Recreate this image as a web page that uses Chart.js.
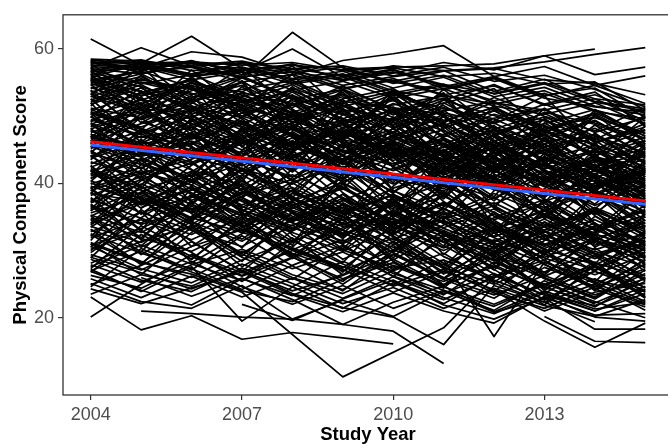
<!DOCTYPE html>
<html>
<head>
<meta charset="utf-8">
<script src="https://cdn.jsdelivr.net/npm/chart.js@4.4.1/dist/chart.umd.min.js"></script>
<style>
  html, body { margin: 0; padding: 0; background: #fff; overflow: hidden; }
  #wrap { width: 680px; height: 446px; }
</style>
</head>
<body>
<div id="wrap"><canvas id="pcsChart" width="680" height="446"></canvas></div>
<script>
const _ = null;

const years = [2004, 2005, 2006, 2007, 2008, 2009, 2010, 2011, 2012, 2013, 2014, 2015];
const xTicks = [2004, 2007, 2010, 2013];
const yTicks = [20, 40, 60];

// one row per participant, PCS by study year (null = not measured that year)
const subjects = [
  [58.3,57.9,58.1,57.6,58.0,56.8,57.2,55.9,56.4,54.8,55.1,50.9],
  [58.5,58.2,57.4,58.0,57.1,57.5,56.0,57.3,55.2,56.1,54.0,51.4],
  [58.1,57.0,58.3,56.2,57.8,55.4,56.9,54.1,55.7,53.0,54.6,51.9],
  [57.9,58.4,56.8,57.3,55.6,56.7,54.2,55.8,52.9,54.3,51.5,50.2],
  [58.4,57.6,57.9,55.8,57.0,54.6,55.9,56.8,53.7,55.5,52.2,51.1],
  [61.5,57.6,56.1,57.9,55.0,56.3,53.8,52.4,54.7,51.6,53.2,50.4],
  [57.2,60.2,57.5,55.9,56.6,54.2,55.3,53.1,51.8,53.4,50.7,49.6],
  [56.8,57.9,61.9,57.1,55.4,56.2,53.5,54.8,52.0,50.9,52.6,49.3],
  [57.6,57.2,59.6,58.8,56.4,57.3,55.1,53.9,55.6,52.7,51.4,50.6],
  [56.2,58.0,57.3,55.7,62.5,57.2,54.9,56.1,53.3,54.8,52.1,50.8],
  [57.4,56.9,58.2,56.6,60.0,55.8,57.0,54.4,55.9,53.1,54.2,49.8],
  [55.8,57.8,56.3,57.9,56.1,58.3,59.3,60.5,55.9,57.4,54.6,56.0],
  [_,_,_,_,_,57.0,57.3,57.5,57.8,59.0,60.0,_],
  [_,_,_,56.4,57.1,56.0,57.5,56.8,57.2,58.1,59.2,60.2],
  [57.1,56.3,57.6,58.2,56.7,55.3,56.4,58.0,56.9,59.0,56.2,57.3],
  [56.6,57.4,55.9,56.8,57.6,56.9,55.2,56.7,57.1,55.4,54.9,53.2],
  [58.2,56.5,57.3,55.1,56.2,54.0,55.6,53.2,54.5,51.8,53.6,48.5],
  [57.8,58.1,56.0,57.0,54.8,55.9,53.1,54.6,52.3,53.8,50.9,49.0],
  [55.3,56.8,58.0,56.9,57.7,55.5,56.6,54.7,53.4,55.0,52.6,51.7],
  [58.0,57.3,55.4,56.6,53.9,55.2,52.7,54.1,51.5,50.3,52.0,48.8],
  [55.2,53.1,54.6,52.0,53.8,50.7,52.3,49.4,51.2,48.0,49.9,47.1],
  [54.6,56.3,52.8,55.1,51.6,53.9,50.2,52.7,49.1,51.0,47.6,49.8],
  [53.8,51.2,55.0,52.4,50.1,53.2,48.7,51.6,47.3,49.5,46.2,48.4],
  [56.1,54.4,51.9,55.7,53.0,49.6,52.8,48.2,50.9,46.8,49.3,45.5],
  [52.9,55.6,53.4,50.8,54.2,51.5,49.3,52.0,48.1,50.4,47.0,44.6],
  [55.7,52.4,54.9,53.6,51.3,54.5,50.8,48.6,51.4,47.7,45.9,48.9],
  [54.1,55.9,52.2,54.0,55.3,52.1,53.7,50.5,48.9,51.8,49.0,46.7],
  [53.3,50.9,53.8,56.0,52.7,50.2,53.3,51.1,49.6,46.4,49.8,47.5],
  [56.5,54.8,56.2,53.1,50.6,52.9,49.8,47.2,50.3,48.5,45.1,47.9],
  [51.8,54.2,50.7,53.5,51.9,49.1,51.7,53.0,48.4,45.9,48.2,44.3],
  [54.9,52.6,50.3,52.9,55.0,51.7,48.2,50.8,52.2,49.3,46.5,50.1],
  [52.4,55.1,54.0,51.2,49.5,52.6,54.1,49.9,47.0,50.6,48.8,45.9],
  [55.5,53.7,51.4,49.8,53.1,50.4,47.6,51.3,49.0,45.4,47.3,43.8],
  [53.0,50.5,52.7,54.6,50.9,48.3,51.0,46.9,49.7,51.1,46.1,48.0],
  [50.9,53.4,55.5,52.1,54.7,51.0,49.5,52.4,50.1,47.6,50.3,46.6],
  [56.9,55.0,53.2,55.8,52.5,54.0,51.2,49.0,52.8,50.0,47.8,51.3],
  [54.3,51.7,49.9,52.3,48.6,51.4,53.5,50.0,46.3,48.9,51.0,47.0],
  [51.2,49.8,52.5,50.0,53.6,49.4,47.1,49.9,45.5,47.8,44.2,46.4],
  [55.0,56.7,54.3,51.6,49.2,47.5,50.6,53.2,51.0,48.6,45.6,43.4],
  [52.1,54.7,51.0,48.9,51.8,53.3,50.5,47.8,44.9,47.2,49.4,45.2],
  [_,53.5,55.3,52.6,50.4,48.8,51.9,49.2,52.1,48.0,50.5,47.4],
  [_,_,54.2,51.3,53.9,50.6,52.5,48.3,50.8,47.1,44.5,46.9],
  [53.6,55.4,_,52.8,49.9,52.2,_,50.3,47.6,49.9,46.7,_],
  [50.6,48.4,51.3,53.4,49.7,47.0,49.2,45.9,48.5,44.6,46.8,43.0],
  [55.9,53.0,55.6,50.5,52.3,49.7,46.4,48.8,45.8,48.1,44.0,42.1],
  [49.5,47.2,50.1,46.8,48.9,45.3,47.6,44.1,46.2,42.7,45.0,41.6],
  [48.1,50.6,46.9,49.3,45.8,48.0,44.7,46.5,43.2,45.9,41.8,44.2],
  [47.3,44.9,48.7,51.2,47.0,44.3,46.9,49.0,44.6,41.5,43.9,40.7],
  [50.2,52.4,48.3,45.6,49.1,51.6,47.4,44.8,47.9,45.1,42.3,46.0],
  [46.6,49.8,51.5,47.9,44.2,46.7,49.5,45.7,42.4,44.9,47.3,42.9],
  [49.0,45.8,47.5,44.0,47.7,43.6,46.1,42.9,45.3,41.2,43.5,39.8],
  [45.2,47.9,44.6,48.0,50.3,46.2,43.8,47.3,44.0,40.6,43.2,45.1],
  [48.8,51.3,49.6,46.3,43.9,47.5,45.0,41.7,44.5,46.8,42.6,40.1],
  [44.5,42.3,46.0,49.1,45.4,42.9,45.8,43.4,40.2,42.8,39.6,41.9],
  [47.8,45.1,42.8,45.9,48.6,44.8,41.9,44.9,47.1,43.6,40.8,43.7],
  [51.0,48.2,45.7,49.8,46.1,43.2,47.0,44.3,41.6,45.4,42.0,38.9],
  [46.1,48.9,50.8,47.2,44.9,48.3,44.1,46.8,43.1,39.9,42.5,44.6],
  [43.7,46.3,44.0,41.8,45.2,47.9,44.4,41.3,43.8,40.7,38.2,41.4],
  [49.9,46.8,48.4,51.0,47.3,45.0,42.6,46.0,42.8,44.6,41.1,39.3],
  [45.8,43.4,47.0,44.5,42.1,45.6,48.1,43.9,41.0,43.5,45.7,40.4],
  [48.4,50.9,47.8,45.0,48.4,44.6,46.4,48.9,45.2,42.1,44.8,41.0],
  [44.0,47.5,50.0,46.6,43.5,41.2,44.7,42.0,45.5,41.9,39.0,42.6],
  [50.7,48.0,44.9,47.7,50.8,47.1,43.4,45.9,42.4,40.1,43.7,39.5],
  [42.9,45.6,43.1,46.4,44.0,40.8,43.9,46.4,42.9,39.5,41.9,44.1],
  [47.0,44.2,46.3,43.3,46.8,49.0,45.5,42.6,39.8,43.0,40.3,37.6],
  [_,49.2,46.6,48.8,45.7,42.4,45.2,41.6,44.2,46.3,42.2,40.0],
  [46.9,_,44.4,47.4,50.0,46.5,_,43.7,40.5,43.9,41.2,38.6],
  [_,_,_,48.2,45.0,47.8,44.0,40.9,43.6,40.4,42.7,39.4],
  [43.2,40.9,44.8,42.2,39.9,43.5,46.0,42.4,39.4,42.0,38.6,36.8],
  [49.3,52.0,48.9,46.0,49.6,46.0,42.9,45.4,48.1,44.3,41.4,44.5],
  [45.5,42.8,41.0,44.7,47.2,44.1,40.7,38.9,42.3,45.0,40.9,37.9],
  [48.6,46.0,49.2,52.1,48.0,44.7,47.7,44.6,41.9,38.8,42.0,40.6],
  [41.7,44.4,47.3,43.6,41.0,44.2,41.4,39.2,42.7,39.9,36.7,39.8],
  [47.6,49.7,45.3,42.6,46.3,42.8,45.9,48.0,43.0,40.8,44.0,41.3],
  [44.8,41.5,43.6,46.9,43.1,40.3,42.2,44.7,40.6,38.1,40.5,36.3],
  [50.5,47.6,51.1,48.5,45.3,48.8,45.3,42.2,45.8,42.5,39.7,42.9],
  [42.4,45.3,42.0,39.7,43.8,46.5,42.5,39.6,36.9,40.3,43.3,38.4],
  [46.4,43.9,40.5,43.8,40.6,43.7,47.2,43.0,40.0,37.3,40.0,42.0],
  [48.0,44.6,47.1,50.5,46.9,43.0,39.9,43.2,46.1,42.6,39.3,41.7],
  [43.9,47.0,45.5,41.4,44.4,41.5,44.6,40.4,37.8,41.1,38.0,35.4],
  [_,_,_,_,_,_,46.3,43.3,40.1,43.7,40.7,37.4],
  [47.1,44.0,46.0,42.9,_,_,_,_,_,_,_,_],
  [41.1,43.7,40.2,43.0,46.2,42.3,38.8,42.1,39.1,36.4,39.5,41.5],
  [39.6,37.2,40.5,36.8,39.4,35.9,38.2,34.7,37.1,33.6,36.0,32.8],
  [38.2,41.0,37.5,40.3,36.7,39.2,35.4,38.1,34.6,37.0,33.2,35.9],
  [36.5,34.1,37.9,41.2,37.6,34.5,37.4,40.0,35.6,32.7,35.8,33.1],
  [40.8,43.4,39.1,36.4,40.2,42.5,38.0,35.3,38.5,35.4,32.6,36.7],
  [35.1,38.7,41.8,37.9,34.3,37.4,40.7,36.2,33.1,35.9,38.9,34.0],
  [39.0,35.6,38.1,34.2,38.0,33.8,36.9,33.4,36.2,32.1,34.6,31.2],
  [34.4,37.3,33.9,38.1,40.6,36.2,33.0,37.1,33.8,30.6,33.5,36.1],
  [38.9,41.6,39.8,36.0,33.7,37.5,34.6,31.3,34.9,37.6,33.1,30.4],
  [33.6,31.2,35.0,38.6,34.8,32.1,35.7,33.0,29.7,32.9,30.1,32.6],
  [37.7,34.8,32.4,35.9,39.0,35.1,31.6,35.0,37.9,33.9,30.8,33.8],
  [41.5,38.3,35.6,40.0,36.4,33.1,37.3,34.3,31.2,35.5,31.9,29.6],
  [36.0,39.2,41.2,37.3,34.6,38.4,34.0,37.2,33.5,29.8,32.8,35.3],
  [32.8,35.7,33.0,30.6,34.5,37.8,33.9,30.5,33.4,30.2,27.9,31.1],
  [40.1,36.8,39.0,41.9,37.8,35.0,32.4,36.3,32.6,35.1,31.5,29.2],
  [35.3,32.7,36.6,33.8,31.2,35.3,38.3,34.0,30.8,33.6,35.7,30.7],
  [39.3,41.9,38.6,35.1,38.9,35.6,39.3,41.6,36.5,33.0,36.4,33.3],
  [34.0,37.0,40.2,36.6,33.4,31.0,34.8,32.1,35.4,31.7,28.8,32.0],
  [41.9,39.0,35.7,38.4,41.3,37.9,34.2,36.9,33.2,30.9,34.1,29.9],
  [31.9,34.6,31.6,35.0,32.7,29.9,33.2,35.8,31.9,29.0,31.8,34.2],
  [37.1,39.9,36.9,34.0,37.4,40.1,36.5,33.3,30.4,34.2,31.2,28.4],
  [33.1,30.5,34.3,31.4,35.6,32.6,29.8,33.8,36.7,32.4,29.5,31.6],
  [40.4,37.7,34.8,38.8,35.1,32.3,35.8,32.7,29.9,33.1,36.1,32.2],
  [_,36.4,39.4,36.1,33.2,36.9,33.6,30.4,33.6,30.3,33.4,29.1],
  [38.5,_,36.1,39.7,36.0,33.6,_,34.4,31.4,34.7,31.0,_],
  [_,_,_,_,38.7,35.4,38.4,35.0,32.0,35.2,32.4,30.2],
  [36.8,33.9,36.3,32.9,36.3,39.5,35.5,32.5,29.4,32.3,29.1,31.9],
  [30.8,33.3,36.9,33.2,30.1,33.4,36.8,32.6,29.2,26.8,29.9,27.6],
  [39.9,42.4,38.4,35.5,32.9,36.4,33.0,30.0,33.1,36.1,32.0,28.8],
  [34.9,31.8,29.9,33.4,36.8,33.0,30.5,27.9,31.6,28.9,26.4,29.4],
  [37.4,40.6,43.0,38.9,35.8,32.4,35.9,38.7,34.2,30.8,33.7,31.3],
  [42.2,39.4,36.2,33.6,37.2,34.0,30.9,34.5,31.0,28.1,31.4,35.0],
  [_,_,38.2,35.2,38.5,35.8,32.6,36.2,33.1,29.6,32.5,30.0],
  [35.6,38.1,34.7,37.6,34.1,31.4,34.4,31.2,28.5,31.9,28.2,25.9],
  [29.4,27.1,30.6,33.1,29.6,27.0,30.1,27.5,25.0,28.3,25.6,23.9],
  [27.6,30.8,28.0,25.5,28.9,31.6,27.7,24.8,27.9,24.4,26.9,24.1],
  [31.2,28.4,26.0,29.9,26.4,24.2,27.8,25.4,29.0,25.9,23.1,26.6],
  [26.3,24.4,27.9,30.2,27.3,29.8,26.2,23.6,26.6,23.4,21.8,24.7],
  [30.2,33.0,29.1,26.3,30.4,27.6,24.9,28.6,25.6,22.8,25.8,22.4],
  [28.7,25.6,23.9,27.4,24.6,28.4,25.4,22.7,26.0,28.6,24.3,21.6],
  [24.9,27.8,31.3,27.0,24.0,26.3,29.4,26.0,23.4,26.3,23.4,25.8],
  [32.5,29.6,27.3,24.2,27.8,30.8,26.6,24.1,21.7,24.9,27.5,23.3],
  [25.8,23.0,26.2,23.1,25.9,22.9,26.1,23.0,20.6,23.7,21.0,23.6],
  [28.1,31.4,33.6,29.5,26.0,23.6,27.0,29.6,25.2,22.3,25.0,21.1],
  [23.5,26.4,24.7,28.0,25.1,22.1,24.5,21.4,24.4,21.8,20.2,22.7],
  [30.6,27.3,25.2,28.6,31.5,28.0,24.7,27.2,23.7,21.4,24.6,27.3],
  [27.0,29.9,26.8,24.0,22.4,25.7,28.2,24.6,22.0,25.1,22.4,20.0],
  [_,_,29.5,26.7,30.0,27.2,23.8,26.9,24.2,21.0,23.8,25.1],
  [26.9,24.1,21.9,25.8,23.3,26.5,_,_,_,_,_,_],
  [20.1,25.0,29.4,26.2,29.0,25.8,28.7,24.9,27.6,24.5,22.2,25.4],
  [23.1,18.2,20.3,16.8,17.8,17.0,16.1,_,_,_,_,_],
  [_,21.0,20.6,20.1,19.8,19.0,18.0,13.2,_,_,_,_],
  [31.0,28.2,26.5,23.8,_,11.2,_,18.5,26.0,29.5,27.1,30.3],
  [_,_,_,_,_,30.1,27.4,28.6,17.2,28.3,25.1,27.9],
  [29.0,26.7,24.3,27.1,23.6,21.5,20.1,16.0,24.8,22.3,19.4,_],
  [_,_,_,_,_,_,_,_,24.1,19.5,15.6,19.2],
  [_,_,_,_,_,_,_,_,_,20.2,16.5,16.3],
  [27.9,25.3,28.4,24.6,22.0,24.8,21.4,24.1,20.8,22.9,18.3,18.3],
  [_,_,_,22.0,19.6,22.8,25.6,21.9,19.8,23.0,20.4,20.6],
  [24.3,22.1,_,26.8,23.4,20.9,23.7,21.0,19.2,23.2,20.1,19.5],
  [27.2,23.9,27.6,19.5,24.6,21.4,25.2,22.1,26.3,23.4,21.0,24.2],
  [25.1,22.4,21.4,24.8,19.8,22.6,20.2,23.9,21.1,25.5,22.0,_],
  [_,26.0,23.2,25.9,22.7,19.0,22.3,24.7,20.9,24.0,21.3,22.3],
  [52.0,44.3,50.6,55.2,46.8,41.9,49.7,53.5,44.0,47.6,39.2,45.8],
  [38.4,47.9,42.1,35.6,44.7,49.2,38.9,36.0,43.4,34.7,41.0,37.1],
  [45.9,53.8,47.2,40.3,48.6,43.0,51.2,42.8,38.0,46.9,40.2,34.4],
  [31.5,39.8,45.3,36.2,30.8,41.6,35.1,43.9,33.7,29.4,38.5,31.9],
  [56.3,49.0,53.1,45.4,51.8,47.3,42.6,50.1,45.7,39.8,47.5,42.0],
  [42.7,35.4,40.9,48.3,39.2,34.0,44.5,37.3,32.1,40.7,35.2,30.6],
  [49.8,56.1,51.6,47.1,41.9,50.3,46.2,39.5,47.4,43.2,37.6,44.9],
  [34.7,29.8,37.4,32.6,40.1,35.6,28.9,36.5,41.3,31.8,28.0,35.5],
  [53.9,47.4,43.8,51.4,56.2,48.7,44.0,52.6,46.4,42.2,50.2,45.0],
  [28.9,36.1,31.4,26.9,33.0,38.4,32.2,27.6,34.5,30.1,25.3,32.8],
  [47.4,41.2,49.8,43.7,37.9,45.1,50.9,41.1,36.4,44.1,38.3,33.5],
  [40.3,46.6,38.2,44.9,50.4,40.0,36.2,45.0,39.9,35.3,42.9,36.4],
  [57.2,52.6,47.9,54.4,49.0,53.6,46.8,43.5,51.6,44.9,41.2,48.6],
  [36.2,42.8,48.4,39.5,34.4,40.5,46.4,38.4,33.0,39.2,44.4,34.9],
  [44.2,37.8,34.3,41.2,46.4,38.6,33.5,40.3,45.6,36.6,32.2,39.0],
  [51.5,57.5,50.3,44.1,52.7,46.4,53.9,47.6,42.3,49.7,43.6,40.3],
  [33.2,27.9,35.1,40.8,32.3,28.2,36.1,31.9,27.1,34.3,29.6,26.2],
  [46.3,52.9,45.5,39.0,43.0,51.1,42.3,37.7,44.8,38.5,46.1,37.7],
  [39.4,33.0,41.7,46.6,37.3,43.3,35.7,30.7,38.9,43.6,33.9,30.9],
  [55.4,50.2,56.9,50.9,45.6,52.0,48.6,44.2,49.3,53.0,45.3,42.5],
  [30.5,37.4,33.1,28.4,35.8,30.2,37.8,29.4,35.8,31.0,26.9,33.0],
  [48.9,43.0,39.7,47.3,53.2,45.9,40.1,48.5,42.0,37.1,45.2,39.6],
  [43.5,49.9,54.6,45.6,40.3,47.0,52.7,44.3,39.0,46.5,40.7,36.6],
  [37.9,31.6,39.2,34.5,42.2,36.7,31.2,38.8,34.0,29.3,36.3,32.4],
  [53.2,58.0,52.1,48.3,54.4,49.0,44.7,51.9,54.1,47.9,43.8,49.9],
  [26.8,32.4,28.7,34.4,29.4,25.4,31.4,26.8,33.3,28.0,24.2,28.6],
  [45.0,39.3,46.8,51.8,44.3,39.1,46.8,50.3,41.4,37.9,44.3,38.1],
  [50.4,45.2,41.1,48.0,42.5,49.5,43.2,38.3,46.9,41.8,36.9,43.4],
  [35.9,41.5,36.0,30.4,38.6,44.3,37.6,32.3,29.5,37.7,33.8,29.0],
  [41.3,48.1,43.3,37.4,33.1,39.9,45.7,40.7,35.1,31.6,38.4,42.3],
  [_,44.8,51.3,46.3,41.7,47.6,43.9,38.0,45.1,39.6,35.5,41.1],
  [_,_,35.8,42.3,38.1,32.5,39.6,44.9,36.3,33.5,40.1,35.6],
  [54.7,49.5,_,55.0,47.9,_,50.7,45.5,41.6,48.4,_,43.1],
  [32.1,38.6,34.9,_,30.5,37.1,33.4,_,30.2,35.9,31.6,_],
  [_,_,_,_,_,43.6,38.5,45.8,40.8,36.0,42.1,38.0],
  [46.9,51.9,44.2,49.5,_,_,_,_,_,_,_,_],
  [_,_,_,_,52.8,47.6,53.1,46.6,41.9,49.0,44.9,_],
  [29.7,34.9,39.6,33.6,28.8,35.0,30.1,35.6,31.1,26.7,31.7,28.1],
  [57.7,53.5,49.6,55.3,50.3,46.3,53.4,48.7,43.7,51.2,46.4,41.8],
  [40.7,45.4,37.1,42.0,47.5,42.1,37.0,41.9,47.3,40.1,35.4,41.8],
  [48.2,42.1,47.6,41.9,38.8,46.1,40.5,46.7,40.3,35.9,42.8,37.2],
  [34.1,40.4,44.6,37.8,43.8,37.6,32.8,39.7,44.1,38.8,34.1,27.8],
  [52.6,46.1,52.4,57.3,51.1,45.4,49.1,43.2,48.6,42.9,48.7,44.0],
  [37.2,43.7,35.5,31.7,36.6,41.0,34.9,39.9,32.8,37.4,30.5,34.6],
  [44.6,50.4,55.9,49.6,43.6,40.6,48.3,42.5,37.4,44.5,39.0,35.8],
  [31.0,26.4,32.7,38.0,31.7,26.8,34.1,29.1,25.9,31.5,35.9,28.9],
  [55.6,51.1,46.7,53.6,57.5,50.8,47.4,54.0,48.2,43.4,50.9,46.2],
  [42.0,36.9,42.7,47.8,40.9,45.8,39.0,34.6,41.8,46.7,38.8,33.6],
  [49.1,54.3,48.6,43.9,50.7,44.1,49.9,44.0,39.3,45.8,41.9,38.3],
  [27.3,33.7,29.7,25.4,31.3,34.6,28.4,24.4,30.7,26.2,29.2,24.4],
  [46.0,40.6,36.8,43.3,48.2,43.4,38.6,45.1,39.6,35.0,41.5,36.9],
  [39.1,44.9,49.4,43.9,37.7,34.9,41.3,36.6,42.2,37.6,33.0,39.3],
  [53.4,48.0,54.3,49.0,44.5,51.2,45.0,41.4,48.0,43.1,38.7,45.4],
  [33.8,39.6,34.4,29.2,34.9,39.9,33.1,38.2,33.9,28.5,35.1,30.8],
  [50.0,44.7,40.3,46.5,52.0,46.7,51.4,45.7,40.7,47.4,42.4,37.3],
  [36.7,30.7,37.0,42.9,36.9,31.8,38.0,34.1,29.1,36.2,31.5,27.4],
  [45.4,51.6,46.1,40.8,45.9,52.5,44.8,40.1,46.4,40.9,36.2,42.4],
  [41.9,36.3,41.5,38.5,44.9,39.3,35.3,42.2,37.7,41.8,35.6,31.8],
  [56.7,51.8,55.1,50.0,48.1,53.9,48.4,50.9,45.4,47.3,42.5,46.3],
  [24.6,30.3,27.1,32.2,27.7,24.0,29.5,25.7,22.9,27.5,24.7,21.9],
  [35.2,29.4,33.8,27.6,31.9,26.4,30.8,24.9,29.7,23.6,27.8,22.9],
  [_,_,_,_,_,_,31.2,25.8,29.9,24.1,28.3,23.0],
  [33.5,38.0,30.6,35.4,28.9,33.1,27.1,31.7,25.3,30.2,24.0,28.7],
  [_,_,_,_,_,34.7,28.6,32.9,27.2,22.6,27.0,31.4],
  [30.0,35.8,28.2,32.5,37.4,30.9,26.1,32.4,28.6,24.5,30.4,25.7],
  [_,_,_,_,_,_,_,30.8,26.5,21.9,27.8,23.8],
  [38.7,32.9,28.7,34.8,30.2,27.4,32.6,28.1,23.9,29.6,25.2,22.1],
  [_,_,_,33.9,29.1,25.0,29.9,35.1,28.8,24.7,21.6,26.0],
  [44.1,39.6,34.6,40.5,35.5,31.1,37.2,32.4,28.0,33.6,29.4,25.5],
  [_,_,40.9,35.7,31.4,36.8,32.0,27.3,32.7,27.9,24.6,29.8],
  [36.9,31.9,38.4,33.5,29.3,34.2,29.7,25.9,31.2,26.4,32.3,26.9],
  [_,_,_,_,_,_,_,_,30.0,26.0,23.0,28.1],
  [42.6,37.5,33.2,39.3,34.2,30.0,35.3,31.3,27.5,32.9,27.6,24.5],
  [_,38.9,34.0,29.6,33.8,28.7,31.9,26.5,30.5,25.8,22.8,27.1],
  [32.4,28.1,33.4,29.0,25.7,30.6,26.9,23.4,28.3,24.9,27.9,23.1]
];

// fitted trend lines, value at first and last study year
const fitYears = [2004, 2015];
const redFit = [46.2, 37.4];
const blueFit = [45.7, 36.9];

const axisColor = "#333333";
const tickColor = "#4D4D4D";

function toPoints(xs, ys) {
  return xs.map((x, i) => ({ x: x, y: ys[i] })).filter(p => p.y !== null);
}

const datasets = [
  { data: toPoints(fitYears, blueFit), borderColor: "#3366FF", borderWidth: 3, order: 0 },
  { data: toPoints(fitYears, redFit), borderColor: "#FF0000", borderWidth: 3, order: 1 }
];
subjects.forEach(vals => {
  datasets.push({ data: toPoints(years, vals), borderColor: "#000000", borderWidth: 1.7, order: 2 });
});

// panel border and axis titles drawn by hand (ggplot style)
const frame = {
  id: "frame",
  afterDraw(chart) {
    const { ctx, chartArea: a } = chart;
    ctx.save();
    ctx.strokeStyle = axisColor;
    ctx.lineWidth = 1.3;
    ctx.strokeRect(a.left, a.top, a.right - a.left, a.bottom - a.top);
    ctx.fillStyle = "#000";
    ctx.font = "bold 18.5px 'Liberation Sans', Arial, sans-serif";
    ctx.textAlign = "center";
    ctx.textBaseline = "alphabetic";
    ctx.fillText("Study Year", (a.left + a.right) / 2, 440);
    ctx.translate(25.5, (a.top + a.bottom) / 2);
    ctx.rotate(-Math.PI / 2);
    ctx.fillText("Physical Component Score", 0, 0);
    ctx.restore();
  }
};

new Chart(document.getElementById("pcsChart"), {
  type: "line",
  data: { datasets },
  options: {
    responsive: false,
    animation: false,
    devicePixelRatio: 1,
    events: [],
    layout: { padding: { top: 7, right: 7, left: 0, bottom: 0 } },
    elements: {
      line: { tension: 0, fill: false, borderCapStyle: "butt", borderJoinStyle: "round" },
      point: { radius: 0 }
    },
    plugins: { legend: { display: false }, tooltip: { enabled: false } },
    scales: {
      x: {
        type: "linear",
        min: 2003.45,
        max: 2015.55,
        afterBuildTicks: s => { s.ticks = xTicks.map(v => ({ value: v })); },
        afterFit: s => { s.height = 51; },
        grid: { drawOnChartArea: false, drawTicks: true, tickLength: 5, color: axisColor, lineWidth: 1.2 },
        border: { display: false },
        ticks: {
          color: tickColor,
          padding: 4,
          maxRotation: 0,
          font: { family: "'Liberation Sans', Arial, sans-serif", size: 18 },
          callback: v => String(v)
        }
      },
      y: {
        type: "linear",
        min: 8.5,
        max: 65.1,
        afterBuildTicks: s => { s.ticks = yTicks.map(v => ({ value: v })); },
        afterFit: s => { s.width = 63; },
        grid: { drawOnChartArea: false, drawTicks: true, tickLength: 5, color: axisColor, lineWidth: 1.2 },
        border: { display: false },
        ticks: {
          color: tickColor,
          padding: 4,
          font: { family: "'Liberation Sans', Arial, sans-serif", size: 18 },
          callback: v => String(v)
        }
      }
    }
  },
  plugins: [frame]
});
</script>
</body>
</html>
